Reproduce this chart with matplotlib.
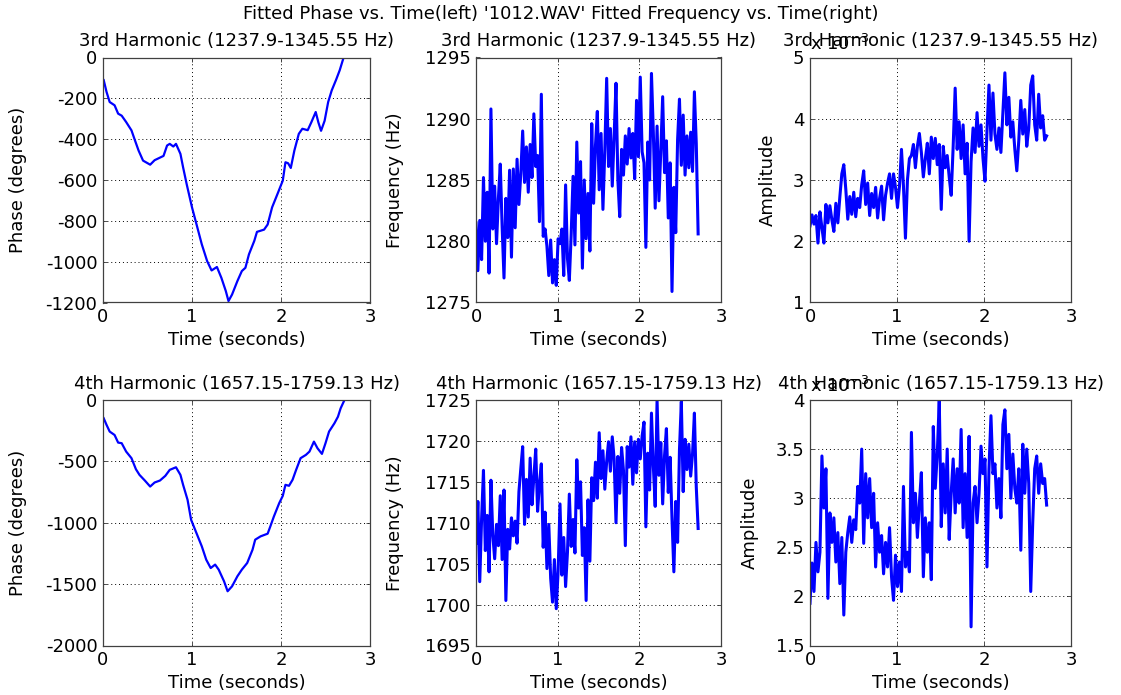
import numpy as np
import matplotlib
matplotlib.use("Agg")
import matplotlib.pyplot as plt
from matplotlib.ticker import FormatStrFormatter, MultipleLocator

plt.rcParams['font.family'] = ['DejaVu Sans']
FS = 13

# ---------------- data ----------------
# phase traces (time in s, phase in degrees)
t_phase3 = [0.008, 0.04, 0.075, 0.13, 0.17, 0.21, 0.26, 0.32, 0.36, 0.40, 0.45, 0.53,
            0.58, 0.68, 0.72, 0.75, 0.79, 0.82, 0.87, 0.90, 0.94, 1.00, 1.05, 1.11,
            1.17, 1.22, 1.28, 1.33, 1.38, 1.41, 1.45, 1.51, 1.56, 1.60, 1.64, 1.70,
            1.73, 1.81, 1.85, 1.90, 1.96, 2.02, 2.05, 2.08, 2.11, 2.15, 2.20, 2.24,
            2.30, 2.34, 2.39, 2.42, 2.45, 2.49, 2.53, 2.57, 2.62, 2.66, 2.70, 2.73]
phase3 = [-111, -169, -218, -234, -275, -285, -316, -357, -407, -456, -505, -525,
          -503, -482, -431, -423, -436, -423, -472, -538, -620, -734, -816, -915,
          -997, -1043, -1026, -1079, -1144, -1193, -1161, -1095, -1046, -1030, -964, -898,
          -854, -843, -818, -734, -669, -603, -513, -518, -541, -456, -374, -349,
          -356, -318, -267, -318, -359, -310, -218, -161, -108, -62, -5, 36]

t_phase4 = [0.008, 0.04, 0.075, 0.13, 0.17, 0.21, 0.26, 0.32, 0.37, 0.41, 0.47, 0.53,
            0.58, 0.64, 0.70, 0.75, 0.82, 0.87, 0.90, 0.95, 0.99, 1.05, 1.11, 1.16,
            1.21, 1.26, 1.30, 1.36, 1.40, 1.45, 1.51, 1.56, 1.62, 1.68, 1.71, 1.77,
            1.85, 1.88, 1.92, 1.98, 2.02, 2.05, 2.09, 2.13, 2.17, 2.22, 2.28, 2.32,
            2.37, 2.41, 2.46, 2.50, 2.54, 2.60, 2.64, 2.67, 2.71, 2.74]
phase4 = [-149, -203, -257, -285, -347, -352, -420, -474, -564, -610, -656, -705,
          -672, -656, -618, -569, -548, -610, -691, -813, -976, -1084, -1192, -1301,
          -1369, -1341, -1382, -1477, -1558, -1518, -1436, -1382, -1328, -1220, -1138, -1111,
          -1089, -1030, -949, -840, -781, -691, -699, -650, -569, -474, -447, -420,
          -339, -393, -439, -352, -257, -190, -136, -68, -5, 40]

# frequency and amplitude tracks, 120 frames from 0 to 2.72 s
n_frames = 120
t_track = np.linspace(0.0, 2.72, n_frames)

freq3 = [1281.5, 1277.6, 1281.7, 1278.5, 1285.2, 1280.0, 1284.0, 1277.4, 1290.8, 1281.0,
         1284.5, 1279.8, 1283.5, 1286.3, 1281.2, 1277.0, 1283.5, 1280.3, 1285.8, 1278.7,
         1285.9, 1281.1, 1286.7, 1283.0, 1285.5, 1289.0, 1284.8, 1287.7, 1284.0, 1287.9,
         1285.2, 1290.4, 1286.1, 1287.0, 1281.6, 1292.0, 1280.4, 1281.0, 1279.6, 1277.2,
         1280.1, 1276.6, 1278.5, 1276.4, 1280.2, 1279.8, 1281.0, 1277.2, 1284.6, 1278.6,
         1276.8, 1280.6, 1285.3, 1279.7, 1288.1, 1282.3, 1286.5, 1277.8, 1285.0, 1280.2,
         1283.9, 1279.2, 1289.6, 1283.1, 1287.8, 1290.6, 1284.2, 1288.8, 1282.6, 1287.4,
         1293.3, 1286.1, 1289.2, 1284.5, 1288.6, 1292.9, 1285.0, 1282.0, 1287.5, 1285.4,
         1288.6, 1286.3, 1289.2, 1286.8, 1288.8, 1285.1, 1291.5, 1286.9, 1293.4, 1287.3,
         1286.4, 1279.5, 1288.1, 1285.0, 1293.7, 1288.9, 1282.7, 1289.4, 1283.3, 1287.4,
         1291.8, 1285.6, 1288.2, 1281.9, 1286.4, 1275.9, 1284.4, 1280.7, 1288.3, 1291.6,
         1286.2, 1290.3, 1285.4, 1288.6, 1286.0, 1288.9, 1285.7, 1292.2, 1288.0, 1280.6]

freq4 = [1707.5, 1712.6, 1702.8, 1710.5, 1716.4, 1706.6, 1710.9, 1704.0, 1715.2, 1708.5,
         1705.6, 1709.8, 1707.2, 1713.3, 1705.5, 1714.0, 1700.5, 1709.2, 1706.8, 1710.6,
         1708.4, 1710.2, 1707.5, 1713.8, 1716.6, 1719.3, 1709.8, 1715.3, 1710.7, 1717.9,
         1712.2, 1715.6, 1719.0, 1711.4, 1714.8, 1717.2, 1707.0, 1711.3, 1704.4, 1709.8,
         1703.2, 1700.3, 1705.5, 1699.5, 1704.1, 1712.3, 1703.6, 1708.2, 1702.2, 1706.4,
         1713.5, 1707.1, 1710.4, 1706.3, 1717.7, 1711.8, 1715.0, 1706.0, 1709.4, 1700.5,
         1712.8, 1705.3, 1715.5, 1712.7, 1717.4, 1713.0, 1721.0, 1715.4, 1718.8, 1714.1,
         1717.5, 1719.9, 1716.3, 1720.5, 1717.8, 1710.0, 1718.1, 1713.6, 1719.2, 1716.4,
         1707.2, 1719.3, 1716.8, 1720.5, 1714.7, 1719.9, 1716.1, 1720.2, 1717.8, 1720.6,
         1722.3, 1709.5, 1718.5, 1714.0, 1723.4, 1716.9, 1712.0, 1725.0, 1715.8, 1719.8,
         1712.3, 1718.2, 1721.5, 1713.7, 1718.0, 1710.5, 1704.0, 1712.6, 1707.6, 1718.9,
         1724.8, 1713.8, 1720.2, 1716.5, 1719.6, 1715.7, 1718.4, 1723.4, 1714.4, 1709.3]

# amplitudes in units of 1e-3
amp3 = [2.25, 2.43, 2.28, 2.42, 1.97, 2.48, 2.22, 1.97, 2.60, 2.30,
        2.58, 2.35, 2.16, 2.62, 2.30, 2.72, 3.10, 3.25, 2.85, 2.36,
        2.73, 2.44, 2.80, 2.40, 2.70, 2.55, 2.92, 3.15, 2.60, 2.95,
        2.42, 2.78, 2.55, 2.88, 2.38, 2.70, 2.90, 2.35, 2.75, 2.95,
        3.10, 2.70, 3.10, 2.88, 2.55, 2.90, 3.50, 2.90, 2.05, 3.00,
        3.35, 3.40, 3.58, 3.20, 3.55, 3.76, 3.45, 3.05, 3.35, 3.60,
        3.10, 3.70, 3.35, 3.68, 3.25, 3.58, 2.52, 3.55, 3.20, 3.40,
        3.05, 2.75, 3.55, 4.50, 3.50, 3.95, 3.35, 3.90, 3.10, 3.60,
        2.00, 3.30, 3.85, 3.45, 4.10, 3.55, 3.90, 3.35, 2.98, 3.80,
        4.55, 3.65, 4.42, 3.75, 3.50, 3.85, 3.45, 4.10, 4.75, 3.90,
        4.35, 3.70, 3.95, 3.50, 3.15, 3.65, 4.30, 3.75, 4.15, 3.55,
        3.85, 4.55, 4.70, 3.90, 3.65, 4.40, 3.85, 4.05, 3.65, 3.72]

amp4 = [1.93, 2.34, 2.05, 2.55, 2.25, 2.45, 3.43, 2.90, 3.30, 1.98,
        2.85, 2.55, 2.80, 2.35, 2.65, 2.13, 2.60, 1.81, 2.45, 2.65,
        2.81, 2.55, 2.78, 2.68, 3.12, 2.95, 3.50, 2.54, 3.25, 2.80,
        3.20, 2.70, 3.05, 2.30, 2.75, 2.45, 2.62, 2.23, 2.55, 2.30,
        2.70, 2.20, 1.96, 2.42, 2.10, 2.35, 2.05, 3.12, 2.30, 2.45,
        2.25, 3.67, 2.75, 3.05, 2.60, 2.95, 3.26, 2.20, 2.80, 2.45,
        2.75, 2.17, 3.73, 3.10, 3.45, 4.00, 2.71, 3.35, 2.85, 3.50,
        2.58, 3.05, 3.40, 2.85, 3.30, 2.95, 3.70, 2.70, 3.25, 2.60,
        3.63, 1.69, 2.95, 3.12, 2.75, 3.05, 3.53, 3.25, 3.40, 2.30,
        3.30, 3.84, 3.25, 3.35, 2.90, 3.20, 2.80, 3.75, 3.90, 3.30,
        3.65, 3.00, 3.45, 3.10, 2.95, 3.30, 2.47, 3.55, 3.05, 3.50,
        3.15, 2.05, 2.75, 3.30, 3.43, 3.05, 3.35, 3.15, 3.20, 2.93]

title3 = "3rd Harmonic (1237.9-1345.55 Hz)"
title4 = "4th Harmonic (1657.15-1759.13 Hz)"
suptitle = "Fitted Phase vs. Time(left) '1012.WAV' Fitted Frequency vs. Time(right)"

# ---------------- figure ----------------
W, H = 1121, 695
fig = plt.figure(figsize=(W / 100, H / 100), dpi=100)

cols = [(103, 370), (476, 721), (810, 1071)]
rows = [(57.5, 302.5), (400, 645.5)]


def make_ax(r, c):
    x0, x1 = cols[c]
    y0, y1 = rows[r]
    return fig.add_axes([x0 / W, 1 - y1 / H, (x1 - x0) / W, (y1 - y0) / H])


BLUE = (0, 0, 1)


def style(ax, ylim, ystep, ylabel, ylab_x, title):
    ax.set_xlim(0, 3)
    ax.set_ylim(*ylim)
    ax.xaxis.set_major_locator(MultipleLocator(1))
    ax.yaxis.set_major_locator(MultipleLocator(ystep))
    ax.yaxis.set_major_formatter(FormatStrFormatter('%g'))
    ax.xaxis.set_major_formatter(FormatStrFormatter('%g'))
    ax.tick_params(direction='in', length=3, width=0.6, labelsize=FS, pad=4,
                   top=True, right=True, color='#333333')
    ax.grid(True, color='black', linestyle=(0, (1, 3)), linewidth=0.7)
    for s in ax.spines.values():
        s.set_color('#404040')
        s.set_linewidth(0.9)
    ax.set_title(title, fontsize=FS, pad=8)
    ax.set_xlabel('Time (seconds)', fontsize=FS, va='center')
    ax.xaxis.set_label_coords(0.5, -0.153)
    ax.set_ylabel(ylabel, fontsize=FS, va='center')
    ax.yaxis.set_label_coords(ylab_x, 0.5)


# row 1: 3rd harmonic
ax = make_ax(0, 0)
ax.plot(t_phase3, phase3, color=BLUE, lw=1.6)
style(ax, (-1200, 0), 200, 'Phase (degrees)', -0.32, title3)

ax = make_ax(0, 1)
ax.plot(t_track, freq3, color=BLUE, lw=2.2)
style(ax, (1275, 1295), 5, 'Frequency (Hz)', -0.33, title3)

ax = make_ax(0, 2)
ax.plot(t_track, amp3, color=BLUE, lw=2.2)
style(ax, (1, 5), 1, 'Amplitude', -0.16, title3)
ax.text(0.0, 1.015, r'x 10$^{-3}$', transform=ax.transAxes, fontsize=FS,
        ha='left', va='bottom', zorder=1)

# row 2: 4th harmonic
ax = make_ax(1, 0)
ax.plot(t_phase4, phase4, color=BLUE, lw=1.6)
style(ax, (-2000, 0), 500, 'Phase (degrees)', -0.32, title4)

ax = make_ax(1, 1)
ax.plot(t_track, freq4, color=BLUE, lw=2.2)
style(ax, (1695, 1725), 5, 'Frequency (Hz)', -0.33, title4)

ax = make_ax(1, 2)
ax.plot(t_track, amp4, color=BLUE, lw=2.2)
style(ax, (1.5, 4), 0.5, 'Amplitude', -0.23, title4)
ax.text(0.0, 1.015, r'x 10$^{-3}$', transform=ax.transAxes, fontsize=FS,
        ha='left', va='bottom', zorder=1)

fig.text(0.5, 1 - 14 / H, suptitle, fontsize=FS, ha='center', va='center')

fig.savefig('out.png', dpi=100)
